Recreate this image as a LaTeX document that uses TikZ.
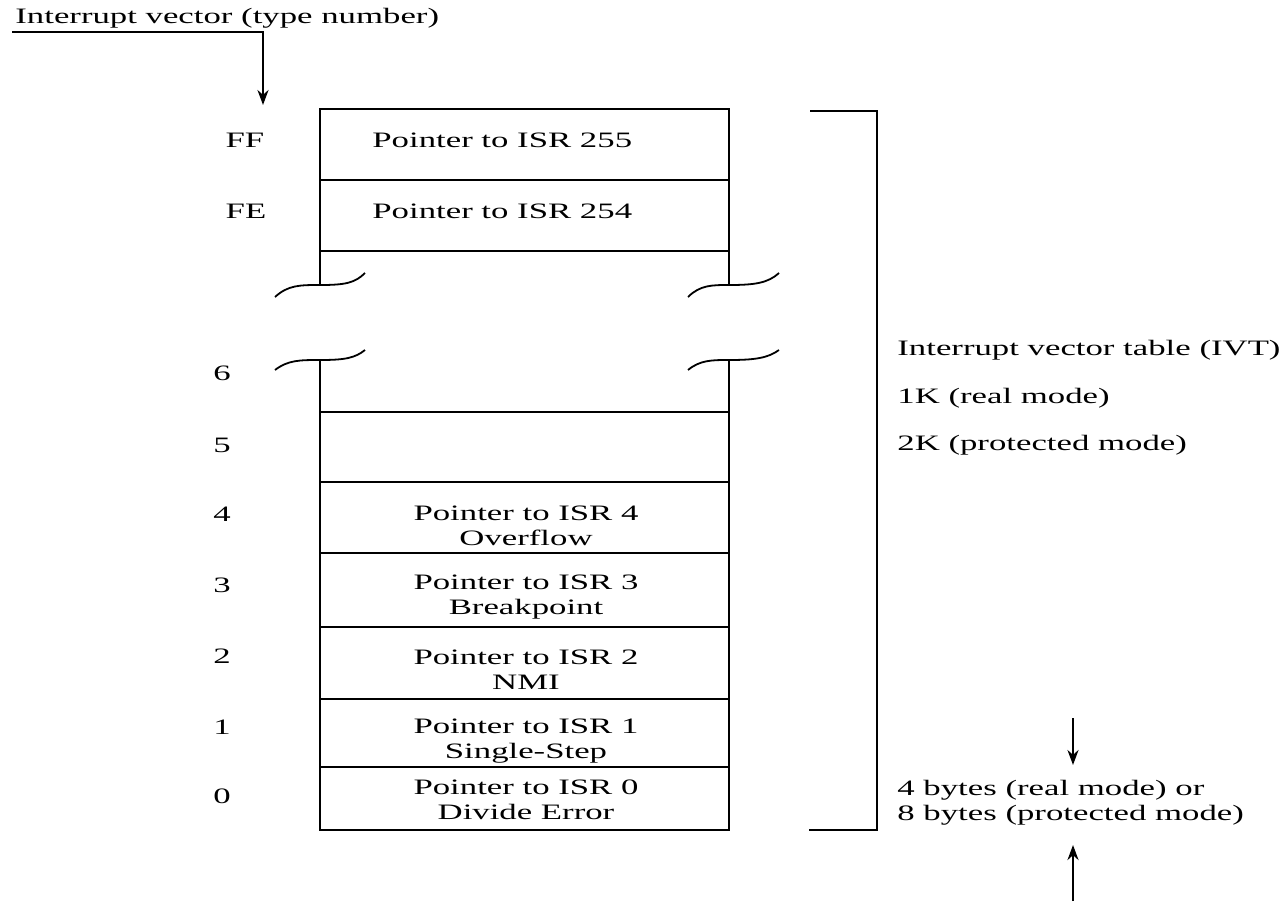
\documentclass[tikz,border=0pt]{standalone}
\usepackage{fontspec}
\setmainfont{Liberation Serif}[FakeStretch=1.58]
\usetikzlibrary{arrows.meta}
\tikzset{
  txt/.style={font=\fontsize{11}{12.5}\selectfont, inner sep=0pt},
  wall/.style={line width=1.1pt},
  brk/.style={line width=0.9pt},
  conn/.style={line width=1.2pt, -{Stealth[length=7.5pt, width=5.5pt]}}
}
\begin{document}
\begin{tikzpicture}[x=0.5pt, y=-0.5pt]
\useasboundingbox (0,0) rectangle (1285,901);
\node[txt, anchor=base west] (title) at (15,23) {Interrupt vector (type number)};
\coordinate (vs) at (12,32);
\coordinate (ve) at (263,105);
\draw[conn] (vs) -| (ve);
\draw[wall] (320,285) -- (320,109) -- (729,109) -- (729,285);
\draw[wall] (320,360) -- (320,830) -- (729,830) -- (729,360);
\foreach \y in {180,251,412,482,553,627,699,767}
  \draw[wall] (320,\y) -- (729,\y);
\foreach \y/\d in {285/12,360/10} {
  \draw[brk] (275,\y+\d) .. controls (288,\y) and (300,\y) .. (320,\y) .. controls (345,\y) and (355,\y-2) .. (365,\y-\d);
  \draw[brk] (688,\y+\d) .. controls (700,\y) and (712,\y) .. (729,\y) .. controls (755,\y) and (768,\y-2) .. (779,\y-\d);
}
\node[txt, anchor=west] (p255) at (372,140) {Pointer to ISR 255};
\node[txt, anchor=west] (p254) at (372,211) {Pointer to ISR 254};
\node[txt, align=center] (p4) at (526,526) {Pointer to ISR 4\\Overflow};
\node[txt, align=center] (p3) at (526,597) {Pointer to ISR 3\\Breakpoint};
\node[txt, align=center] (p2) at (526,670) {Pointer to ISR 2\\NMI};
\node[txt, align=center] (p1) at (526,741) {Pointer to ISR 1\\Single-Step};
\node[txt, align=center] (p0) at (526,800) {Pointer to ISR 0\\Divide Error};
\node[txt] (tFF) at (245,140) {FF};
\node[txt] (tFE) at (246,211) {FE};
\node[txt] (t6) at (222,373) {6};
\node[txt] (t5) at (222,445) {5};
\node[txt] (t4) at (222,514) {4};
\node[txt] (t3) at (222,585) {3};
\node[txt] (t2) at (222,656) {2};
\node[txt] (t1) at (222,727) {1};
\node[txt] (t0) at (222,796) {0};
\draw[wall] (810,111) -- (877,111) -- (877,830) -- (809,830);
\node[txt, anchor=west] (ivt) at (897,350) {Interrupt vector table (IVT)};
\node[txt, anchor=west] (real) at (897,398) {1K (real mode)};
\node[txt, anchor=west] (prot) at (897,445) {2K (protected mode)};
\node[txt, anchor=west, align=left] (bytes) at (897,803) {4 bytes (real mode) or\\8 bytes (protected mode)};
\coordinate (d1) at (1073,718);
\coordinate (d2) at (1073,765);
\coordinate (u1) at (1073,901);
\coordinate (u2) at (1073,845);
\draw[conn] (d1) -- (d2);
\draw[conn] (u1) -- (u2);
\end{tikzpicture}
\end{document}
